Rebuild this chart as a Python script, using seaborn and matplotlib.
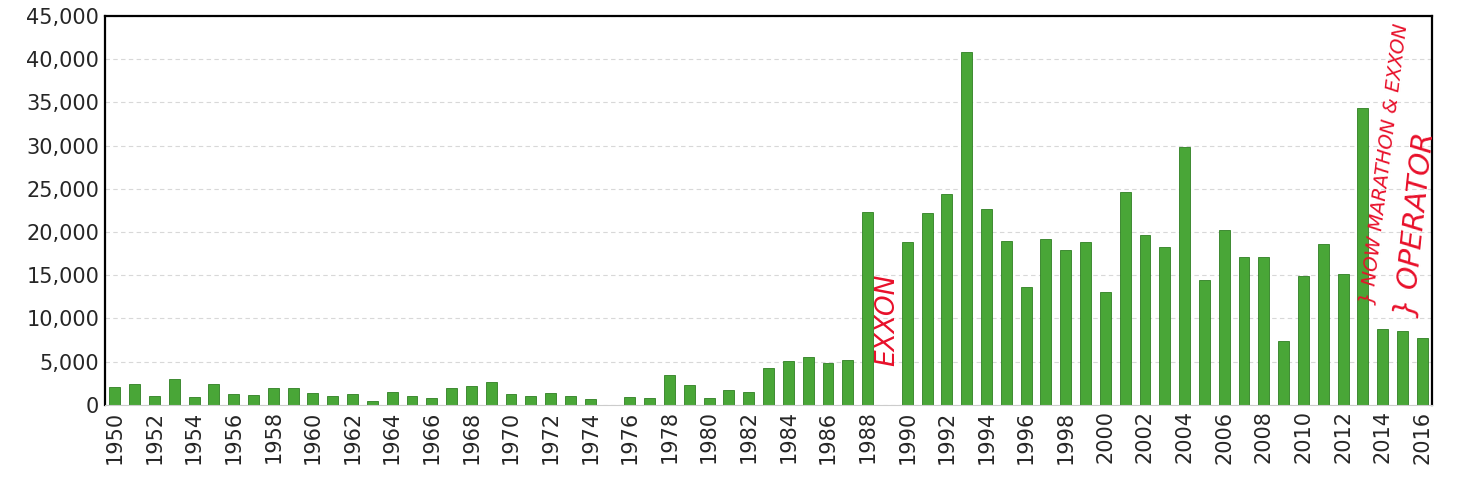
import seaborn as sns
import matplotlib.pyplot as plt
from matplotlib.ticker import FuncFormatter

# Data
years = list(range(1950, 2017))
values = [
    2100, 2400, 1000, 3000, 900, 2400, 1200, 1100, 2000, 2000,   # 1950-1959
    1400, 1000, 1200, 400, 1500, 1000, 800, 2000, 2200, 2700,    # 1960-1969
    1200, 1000, 1400, 1000, 700, 0, 900, 800, 3500, 2300,        # 1970-1979
    800, 1700, 1500, 4300, 5100, 5500, 4900, 5200, 22300, 0,     # 1980-1989
    18900, 22200, 24400, 40800, 22700, 19000, 13600, 19200, 17900, 18800,  # 1990-1999
    13100, 24600, 19600, 18300, 29900, 14500, 20200, 17100, 17100, 7400,   # 2000-2009
    14900, 18600, 15200, 34300, 8800, 8500, 7700,                # 2010-2016
]
tick_years = years[::2]

sns.set_style("white")
plt.rcParams['font.family'] = ['DejaVu Sans']

fig = plt.figure(figsize=(14.57, 4.86), dpi=100)
ax = fig.add_axes([0.072, 0.167, 0.911, 0.80])

sns.barplot(x=[str(y) for y in years], y=values, color="#49a637",
            edgecolor="#2e7f22", linewidth=0.6, width=0.55, saturation=1, ax=ax)

ax.set_ylim(0, 45000)
ax.set_xlim(-0.5, len(years) - 0.5)
ax.set_yticks(range(0, 45001, 5000))
ax.yaxis.set_major_formatter(FuncFormatter(lambda v, p: f"{int(v):,}"))
ax.set_xticks([years.index(y) for y in tick_years])
ax.set_xticklabels([str(y) for y in tick_years], rotation=90)
ax.tick_params(axis='both', labelsize=15, length=0, pad=4)
ax.set_xlabel("")
ax.set_ylabel("")

ax.yaxis.grid(True, color="#d8d8d8", linestyle=(0, (4, 3)), linewidth=0.8)
ax.set_axisbelow(True)

for side in ['left', 'top', 'right']:
    ax.spines[side].set_color("black")
    ax.spines[side].set_linewidth(1.6)
ax.spines['bottom'].set_color("#cccccc")
ax.spines['bottom'].set_linewidth(0.8)

# handwritten notes on the scan
ax.text(years.index(1989), 9800, "EXXON", rotation=90, color="#e8102a",
        fontsize=19, ha='center', va='center', fontstyle='italic')
ax.text(years.index(2013) + 0.7, 11500, "} NOW MARATHON & EXXON", rotation=83,
        rotation_mode='anchor', color="#e8102a", fontsize=14,
        ha='left', va='bottom', clip_on=False, fontstyle='italic')
ax.text(years.index(2015) + 0.9, 10000, "} OPERATOR", rotation=84,
        rotation_mode='anchor', color="#e8102a", fontsize=21,
        ha='left', va='bottom', clip_on=False, fontstyle='italic')

plt.savefig("out.png", dpi=100)
